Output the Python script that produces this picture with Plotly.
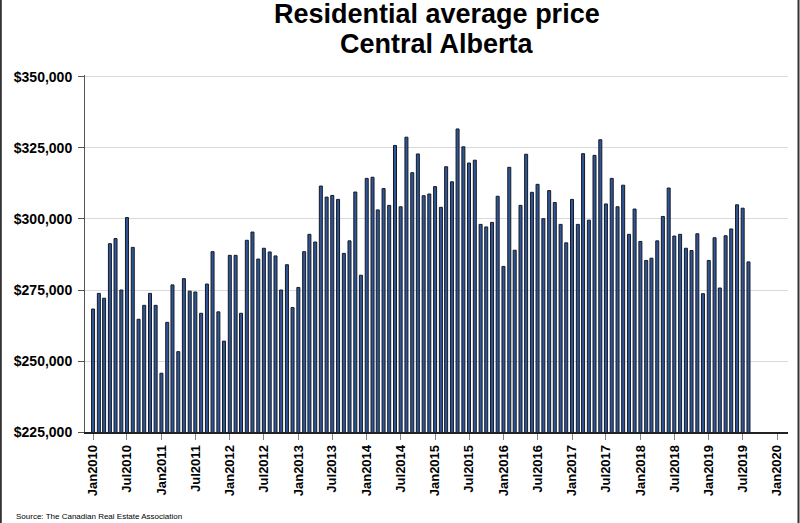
import pandas as pd
import plotly.graph_objects as go

months = pd.date_range("2010-01-01", periods=116, freq="MS")

avg_price = [
    268300, 273800, 272100, 291300, 293100, 275000, 300500, 290000, 264700, 269600, 273800, 269600,
    245700, 263600, 276800, 253300, 279000, 274600, 274300, 266800, 277100, 288500, 267300, 257000,
    287200, 287200, 266800, 292500, 295400, 285900, 289700, 288400, 287000, 275000, 283900, 268800,
    275900, 288500, 294600, 291900, 311600, 307700, 308300, 306900, 287900, 292300, 309500, 280200,
    314300, 314700, 303200, 310700, 304800, 325900, 304300, 328800, 316300, 322900, 308200, 308800,
    311400, 304100, 318400, 313100, 331700, 325400, 319700, 320700, 298100, 297200, 298800, 308000,
    283300, 318200, 289000, 304800, 322800, 309400, 312200, 300100, 310000, 305800, 298100, 291600,
    306900, 298100, 323000, 299600, 322400, 327900, 305300, 314300, 304300, 311900, 294600, 303500,
    292100, 285400, 286200, 292300, 300900, 310900, 294000, 294600, 289700, 288900, 294800, 273700,
    285400, 293400, 275700, 294100, 296500, 305000, 303800, 284900,
]

tick_dates = pd.date_range("2010-01-01", "2020-01-01", freq="6MS")
tick_labels = [
    "Jan2010", "Jul2010", "Jan2011", "Jul2011", "Jan2012", "Jul2012", "Jan2013", "Jul2013",
    "Jan2014", "Jul2014", "Jan2015", "Jul2015", "Jan2016", "Jul2016", "Jan2017", "Jul2017",
    "Jan2018", "Jul2018", "Jan2019", "Jul2019", "Jan2020",
]
y_ticks = [225000, 250000, 275000, 300000, 325000, 350000]
y_labels = ["$225,000", "$250,000", "$275,000", "$300,000", "$325,000", "$350,000"]

FONT = "Liberation Sans, Arial, sans-serif"
day_ms = 86400000
PW, PH = 703, 357  # plot area size in px

fig = go.Figure(
    go.Bar(
        x=months,
        y=avg_price,
        width=16 * day_ms,
        marker=dict(color="#2f5597", line=dict(color="#151a24", width=1)),
        hoverinfo="x+y",
    )
)

fig.update_layout(
    width=800,
    height=523,
    paper_bgcolor="white",
    plot_bgcolor="white",
    margin=dict(l=85, r=12, t=75, b=91, autoexpand=False),
    showlegend=False,
    font=dict(family=FONT, color="#000000"),
    annotations=[
        dict(text="<b>Residential average price</b>", xref="paper", yref="paper",
             x=0.5, y=1 + 61 / PH, xanchor="center", yanchor="middle", showarrow=False,
             font=dict(size=27, family=FONT, color="#000000")),
        dict(text="<b>Central Alberta</b>", xref="paper", yref="paper",
             x=0.5, y=1 + 31 / PH, xanchor="center", yanchor="middle", showarrow=False,
             font=dict(size=27, family=FONT, color="#000000")),
        dict(text="Source: The Canadian Real Estate Association", xref="paper", yref="paper",
             x=(14 - 85) / PW, y=-(516 - 432) / PH, xanchor="left", yanchor="middle",
             showarrow=False, font=dict(size=8, family=FONT, color="#000000")),
    ],
    shapes=[
        dict(type="line", xref="paper", yref="paper", x0=(0.8 - 85) / PW, x1=(0.8 - 85) / PW,
             y0=-91 / PH, y1=1 + 75 / PH, line=dict(color="#333333", width=2)),
        dict(type="line", xref="paper", yref="paper", x0=(798.5 - 85) / PW, x1=(798.5 - 85) / PW,
             y0=-91 / PH, y1=1 + 75 / PH, line=dict(color="#333333", width=2)),
    ],
)

fig.update_xaxes(
    type="date",
    range=["2009-11-19", "2020-02-28"],
    tickmode="array",
    tickvals=tick_dates,
    ticktext=["<b>%s</b>" % t for t in tick_labels],
    tickangle=-90,
    tickfont=dict(size=13, family=FONT, color="#000000"),
    ticks="outside",
    ticklen=6,
    tickcolor="#888888",
    showline=True,
    linecolor="#222222",
    linewidth=1.5,
    showgrid=False,
    zeroline=False,
    automargin=False,
)

fig.update_yaxes(
    range=[225000, 350700],
    tickmode="array",
    tickvals=y_ticks,
    ticktext=["<b>%s</b>" % t for t in y_labels],
    tickfont=dict(size=14, family=FONT, color="#000000"),
    ticks="outside",
    ticklen=6,
    tickcolor="#555555",
    ticklabelstandoff=3,
    showline=True,
    linecolor="#555555",
    linewidth=1,
    showgrid=True,
    gridcolor="#d9d9d9",
    gridwidth=1,
    zeroline=False,
    automargin=False,
)

fig.write_html(
    "out.html",
    config={"displayModeBar": False},
    post_script="document.body.style.margin='0';document.body.style.padding='0';"
                "document.body.style.overflow='hidden';",
)
